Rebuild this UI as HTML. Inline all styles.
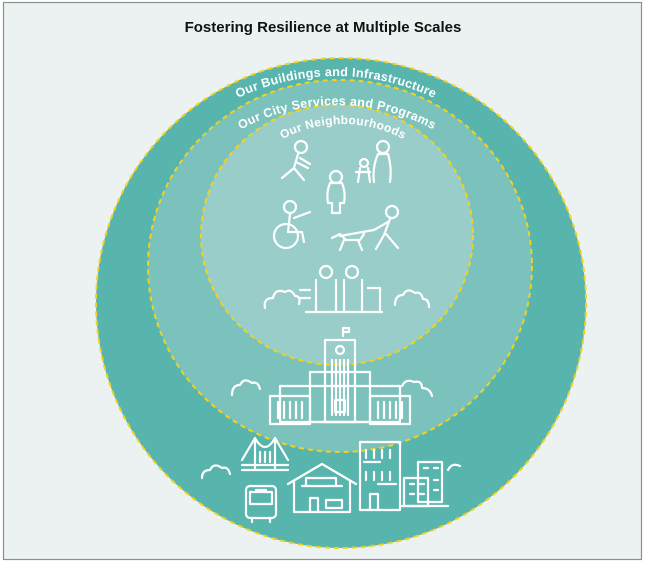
<!DOCTYPE html>
<html><head><meta charset="utf-8"><style>
html,body{margin:0;padding:0;background:#fff;}
svg{display:block;}
</style></head><body>
<svg width="645" height="565" viewBox="0 0 645 565" xmlns="http://www.w3.org/2000/svg">
<rect x="3.5" y="2.5" width="638" height="557" fill="#ebf2f1" stroke="#8a8f8f" stroke-width="1.2"/>
<text x="323" y="32" text-anchor="middle" font-family="Liberation Sans, sans-serif" font-weight="bold" font-size="15" fill="#111">Fostering Resilience at Multiple Scales</text>
<circle cx="341" cy="303" r="245" fill="#57b5ae" stroke="#f2d21c" stroke-width="2" stroke-dasharray="5,4"/>
<ellipse cx="340" cy="266" rx="192" ry="186" fill="#7cc2bc" stroke="#f2d21c" stroke-width="2" stroke-dasharray="5,4"/>
<ellipse cx="337" cy="235" rx="136" ry="130" fill="#98cdca" stroke="#f2d21c" stroke-width="2" stroke-dasharray="5,4"/>
<defs>
<path id="p1" d="M 106,306 A 230,230 0 0 1 566,306"/>
<path id="p2" d="M 136,306 A 201,201 0 0 1 538,306"/>
<path id="p3" d="M 215,252 A 128,128 0 0 1 471,252"/>
</defs>
<g font-family="Liberation Sans, sans-serif" font-weight="bold" font-size="12.5" fill="#fff" letter-spacing="0.3">
<text><textPath href="#p1" startOffset="50%" text-anchor="middle">Our Buildings and Infrastructure</textPath></text>
<text><textPath href="#p2" startOffset="50%" text-anchor="middle">Our City Services and Programs</textPath></text>
<text font-size="12"><textPath href="#p3" startOffset="50%" text-anchor="middle">Our Neighbourhoods</textPath></text>
</g>
<g fill="none" stroke="#fff" stroke-width="2.2" stroke-linecap="round" stroke-linejoin="round">
<circle cx="301" cy="147" r="6"/><path d="M298 154 l-4 14 -12 10 M296 162 l12 6 M294 168 l10 12 M300 158 l10 6"/>
<circle cx="336" cy="177" r="6"/><path d="M330 183 q-4 10 -2 20 h4 v10 h8 v-10 h4 q2 -10 -2 -20 z"/>
<circle cx="383" cy="147" r="6"/><path d="M378 154 q-6 14 -4 28 M388 154 q4 14 2 28 M378 154 h10"/><circle cx="364" cy="163" r="4"/><path d="M360 168 l-2 14 M368 168 l2 14 M356 172 h14"/>
<circle cx="290" cy="207" r="6"/><circle cx="286" cy="236" r="12"/><path d="M290 214 l-2 18 h14 l2 10 M294 218 l16 -6"/>
<circle cx="392" cy="212" r="6"/><path d="M390 219 l-6 16 -8 14 M386 234 l12 14 M388 222 l-14 8 M374 230 l-34 6"/><path d="M332 238 l8 -4 l6 6 h14 l4 -6 M344 240 l-4 10 M358 240 l4 10"/>
<circle cx="326" cy="272" r="6"/><circle cx="352" cy="272" r="6"/><path d="M316 280 v30 M336 280 v30 M344 280 v30 M362 280 v30 M306 312 h76 M300 290 h10 M368 288 h12 v22 M300 298 h10"/>
<path d="M265 308 q-2 -10 8 -10 q2 -10 12 -6 q6 -4 10 4 q6 0 4 8 M395 305 q0 -10 8 -10 q4 -8 12 -2 q6 -2 8 6 q6 0 6 8"/>
<path d="M343 336 v-8 h6 v4 h-6"/>
<rect x="325" y="340" width="30" height="82"/><circle cx="340" cy="350" r="4"/>
<path d="M332 360 v55 M336 360 v55 M340 360 v55 M344 360 v55 M348 360 v55"/>
<rect x="310" y="372" width="60" height="50"/>
<rect x="280" y="386" width="120" height="36"/>
<rect x="270" y="396" width="40" height="28"/><rect x="370" y="396" width="40" height="28"/>
<path d="M278 402 v16 M284 402 v16 M290 402 v16 M296 402 v16 M302 402 v16 M378 402 v16 M384 402 v16 M390 402 v16 M396 402 v16 M402 402 v16"/>
<rect x="335" y="400" width="10" height="12"/>
<path d="M232 395 q0 -10 8 -10 q4 -8 12 -2 q6 -2 8 6 M402 386 q4 -8 12 -4 q8 -2 8 6 q8 0 10 8"/>
<path d="M242 465 h46 M242 470 h46 M255 440 v30 M275 440 v30 M242 460 q13 -22 13 -22 q10 18 20 0 q0 0 13 22 M260 452 v10 M265 452 v10 M270 452 v10"/>
<path d="M202 478 q0 -8 8 -8 q4 -8 12 -2 q6 -2 8 6"/>
<rect x="246" y="486" width="30" height="32" rx="4"/><rect x="250" y="492" width="22" height="12"/><path d="M252 518 v4 M270 518 v4 M256 490 h10"/>
<path d="M288 484 l34 -20 l34 20 M294 482 v30 h56 v-30 M306 478 h30 v8 h-30 z M302 486 h40 M310 512 v-14 h8 v14 M326 500 h16 v8 h-16 z"/>
<rect x="360" y="442" width="40" height="68"/><path d="M366 450 v8 M374 450 v8 M382 450 v8 M390 450 v8 M366 472 v8 M374 472 v8 M382 472 v8 M390 472 v8 M364 462 h16 M378 484 h18 M370 510 v-16 h8 v16"/>
<rect x="418" y="462" width="24" height="40"/><rect x="404" y="478" width="24" height="28"/><path d="M400 506 h48"/>
<path d="M410 484 h4 M420 484 h4 M410 494 h4 M420 494 h4 M424 468 h4 M434 468 h4 M434 480 h4 M434 490 h4"/>
<path d="M448 470 q4 -8 12 -4"/>
</g>
</svg>
</body></html>
